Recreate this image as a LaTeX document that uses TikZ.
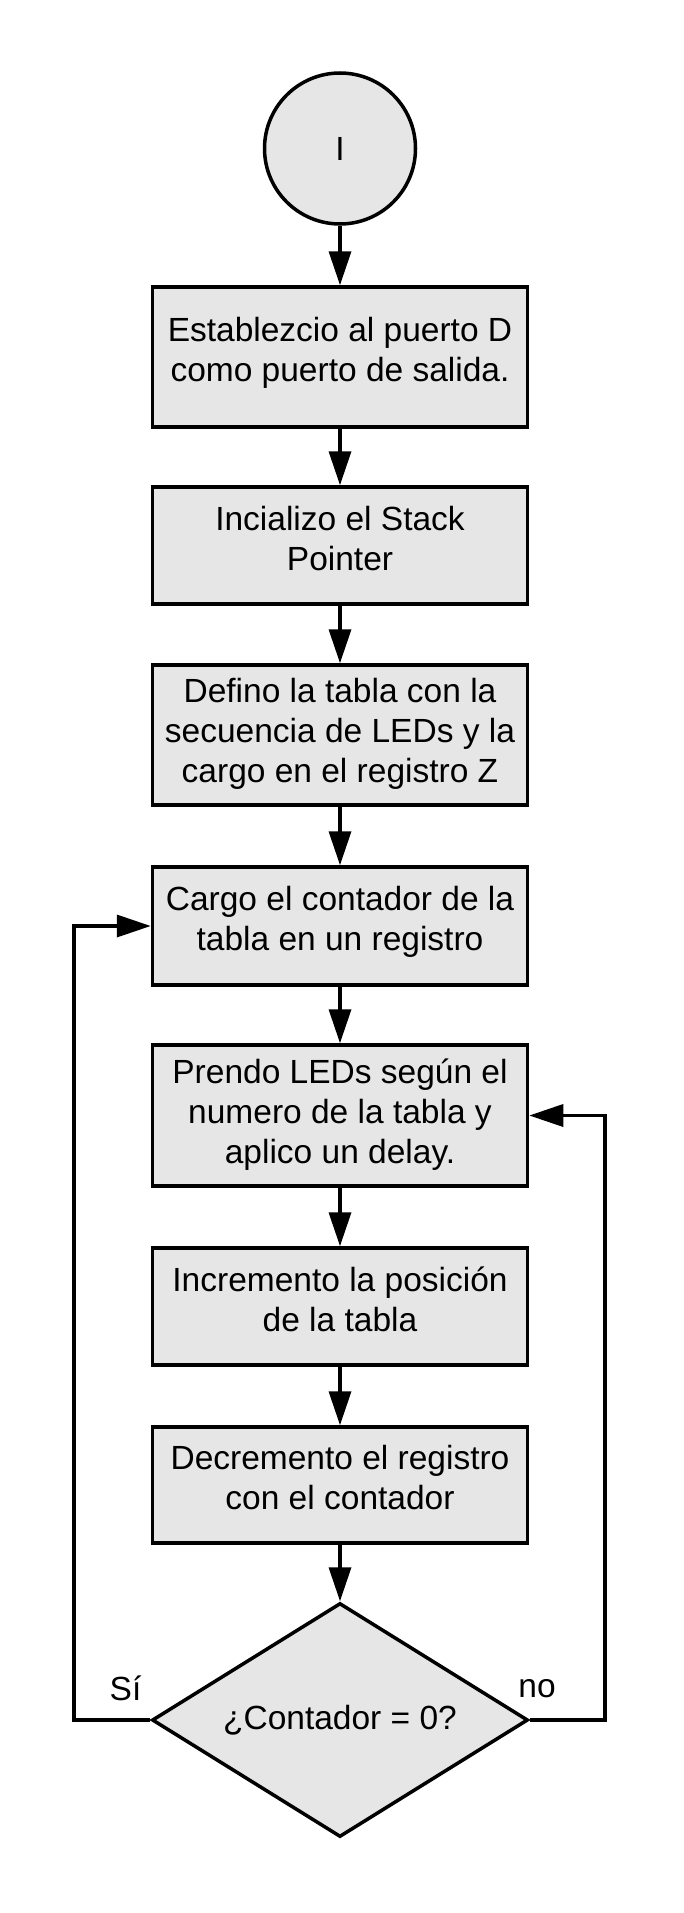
\documentclass[tikz,border=0pt]{standalone}
\usepackage{fontspec}
\setmainfont{Liberation Sans}
\usetikzlibrary{arrows.meta,shapes.geometric}
\definecolor{boxfill}{HTML}{E6E6E6}
\tikzset{
  every node/.style={font=\fontsize{33.5}{40}\selectfont},
  stepbox/.style={draw=black, fill=boxfill, line width=3.5pt, rectangle, align=center,
    minimum width=375pt, inner sep=0pt},
  twoline/.style={text depth=15pt},
  threeline/.style={text depth=9.5pt},
  conn/.style={line width=3.5pt, -{Triangle[length=34pt,width=22pt]}}
}
\begin{document}
\begin{tikzpicture}[x=1pt,y=-1pt]
\useasboundingbox (0,0) rectangle (683,1913);
\node[circle, draw=black, fill=boxfill, line width=3.5pt, minimum size=151pt, inner sep=0pt] (start) at (340,148.5) {I};
\node[stepbox, twoline, minimum height=140pt] (b1) at (340,357) {Establezcio al puerto D\\como puerto de salida.};
\node[stepbox, twoline, minimum height=117pt] (b2) at (340,545.5) {Incializo el Stack\\Pointer};
\node[stepbox, threeline, minimum height=140pt] (b3) at (340,735) {Defino la tabla con la\\secuencia de LEDs y la\\cargo en el registro Z};
\node[stepbox, twoline, minimum height=118pt] (b4) at (340,926) {Cargo el contador de la\\tabla en un registro};
\node[stepbox, threeline, minimum height=141pt] (b5) at (340,1115.5) {Prendo LEDs según el\\numero de la tabla y\\aplico un delay.};
\node[stepbox, twoline, minimum height=117pt] (b6) at (340,1306.5) {Incremento la posición\\de la tabla};
\node[stepbox, twoline, minimum height=116pt] (b7) at (340,1485) {Decremento el registro\\con el contador};
\node[diamond, aspect=1.6, draw=black, fill=boxfill, line width=3.5pt, minimum width=376pt, minimum height=234pt, inner sep=0pt] (dec) at (340,1720) {¿Contador = 0?};
\node (si) at (125.5,1688) {Sí};
\node (no) at (537,1689) {no};
\coordinate (ll) at (74,1720);
\coordinate (lu) at (74,926);
\coordinate (rl) at (605,1720);
\coordinate (ru) at (605,1115.5);
\draw[conn] (start) -- (b1);
\draw[conn] (b1) -- (b2);
\draw[conn] (b2) -- (b3);
\draw[conn] (b3) -- (b4);
\draw[conn] (b4) -- (b5);
\draw[conn] (b5) -- (b6);
\draw[conn] (b6) -- (b7);
\draw[conn] (b7) -- (dec);
\draw[conn] (dec.west) -- (ll) -- (lu) -- (b4.west);
\draw[conn] (dec.east) -- (rl) -- (ru) -- (b5.east);
\end{tikzpicture}
\end{document}
